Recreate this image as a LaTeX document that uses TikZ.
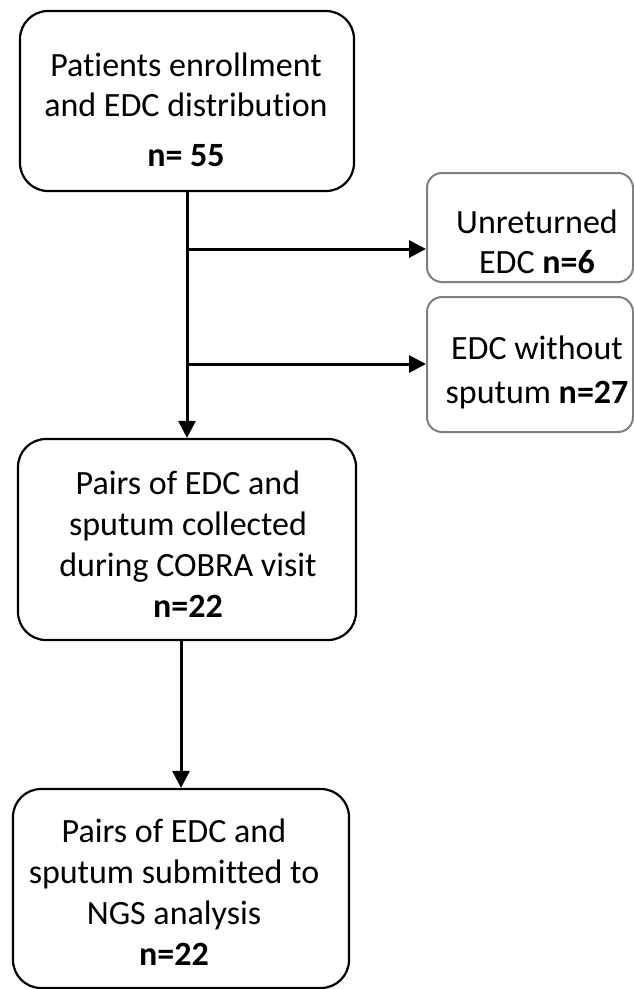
\documentclass[tikz,border=0pt]{standalone}
\usepackage{fontspec}
\setmainfont{Carlito}[Ligatures=NoCommon]
\usetikzlibrary{arrows.meta}
\begin{document}
\begin{tikzpicture}[x=1pt,y=-1pt,
  mainbox/.style={draw=black, line width=2.2pt, rounded corners=28pt, inner sep=0pt},
  sidebox/.style={draw=black!50, line width=2pt, rounded corners=15pt, inner sep=0pt},
  boxtext/.style={align=center, inner sep=0pt, font=\fontsize{34}{41}\selectfont},
  flow/.style={line width=3pt, -{Triangle[length=17pt,width=17pt]}}]
\useasboundingbox (0,0) rectangle (634,989);

% boxes
\node[mainbox, minimum width=334pt, minimum height=180pt] (b1) at (187,101) {};
\node[sidebox, minimum width=206pt, minimum height=109pt] (b2) at (530,227.5) {};
\node[sidebox, minimum width=206pt, minimum height=135pt] (b3) at (530,364.5) {};
\node[mainbox, minimum width=338pt, minimum height=201pt] (b4) at (187,539.5) {};
\node[mainbox, minimum width=336pt, minimum height=199pt] (b5) at (181,888.5) {};

% texts
\node[boxtext, font=\fontsize{34}{40}\selectfont] (t1) at (186,109.5)
  {Patients enrollment\\and EDC distribution\\[10pt]\textbf{n= 55}};
\node[boxtext, font=\fontsize{34}{40}\selectfont] (t2) at (537,241.5)
  {Unreturned\\EDC \textbf{n=6}};
\node[boxtext, font=\fontsize{34}{44}\selectfont] (t3) at (537,372.5)
  {EDC without\\sputum \textbf{n=27}};
\node[boxtext] (t4) at (188,544.5)
  {Pairs of EDC and\\sputum collected\\during COBRA visit\\\textbf{n=22}};
\node[boxtext] (t5) at (174,892.5)
  {Pairs of EDC and\\sputum submitted to\\NGS analysis\\\textbf{n=22}};

% connectors
\coordinate (j1) at (187,249);
\coordinate (j2) at (187,364);
\draw[flow] (b1.south) -- (b4.north);
\draw[flow] (j1) -- (b2.west |- j1);
\draw[flow] (j2) -- (b3.west |- j2);
\draw[flow] (b4.south -| b5.north) -- (b5.north);
\end{tikzpicture}
\end{document}
